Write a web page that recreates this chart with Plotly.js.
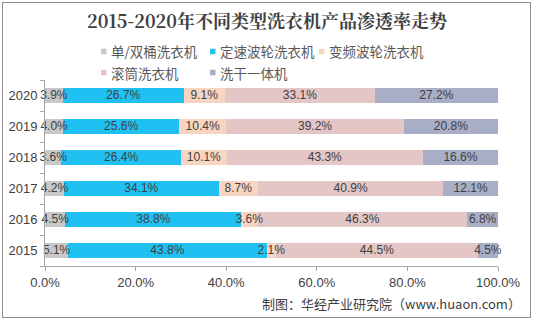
<!DOCTYPE html>
<html><head><meta charset="utf-8">
<script src="https://cdn.plot.ly/plotly-3.0.1.min.js"></script>
<style>
html,body{margin:0;padding:0;background:#fff;}
#wrap{position:relative;width:534px;height:321px;}
#chart{width:534px;height:321px;}
#frame{position:absolute;left:2px;top:2px;width:527px;height:314px;border:1px solid #8c8c8c;pointer-events:none;}
</style></head>
<body>
<div id="wrap"><div id="chart"></div><div id="frame"></div></div>
<script>
const years = ['2015','2016','2017','2018','2019','2020'];
const seriesNames = ['单/双桶洗衣机','定速波轮洗衣机','变频波轮洗衣机','滚筒洗衣机','洗干一体机'];
const singleTwin = [5.1, 4.5, 4.2, 3.6, 4.0, 3.9];
const fixedPulsator = [43.8, 38.8, 34.1, 26.4, 25.6, 26.7];
const inverterPulsator = [2.1, 3.6, 8.7, 10.1, 10.4, 9.1];
const drum = [44.5, 46.3, 40.9, 43.3, 39.2, 33.1];
const washerDryer = [4.5, 6.8, 12.1, 16.6, 20.8, 27.2];
const xTicks = [0, 20, 40, 60, 80, 100];
const colors = ['#c8c8c8', '#20c0f2', '#f8d5c0', '#e5c6c6', '#a7aec6'];

const W = 534, H = 321, M = {l: 45, r: 36, t: 80, b: 55};
const pw = W - M.l - M.r, ph = H - M.t - M.b;
const px2x = p => (p - M.l) / pw;
const py2y = p => (H - M.b - p) / ph;

const series = [singleTwin, fixedPulsator, inverterPulsator, drum, washerDryer];
const traces = [];
series.forEach((vals, i) => {
  traces.push({
    type: 'bar', orientation: 'h', y: years, x: vals, name: seriesNames[i],
    marker: {color: colors[i]}, showlegend: false, hoverinfo: 'skip', textposition: 'none'
  });
});
// data labels on top of everything
const cum = years.map(() => 0);
series.forEach((vals) => {
  const mids = vals.map((v, j) => { const m = cum[j] + v / 2; cum[j] += v; return m; });
  traces.push({
    type: 'scatter', mode: 'text', y: years, x: mids,
    text: vals.map(v => v.toFixed(1) + '%'), textposition: 'middle center',
    textfont: {family: 'Liberation Sans, Arial, sans-serif', size: 12, color: '#404040'},
    showlegend: false, hoverinfo: 'skip', cliponaxis: false
  });
});

// custom legend (3 items per row)
const shapes = [];
const annotations = [];
seriesNames.forEach((name, i) => {
  const col = i % 3, row = Math.floor(i / 3);
  const mx = 101 + col * 109, cy = 51.5 + row * 21;
  shapes.push({type: 'rect', xref: 'paper', yref: 'paper',
    x0: px2x(mx), x1: px2x(mx + 5.5), y0: py2y(cy + 2.75), y1: py2y(cy - 2.75),
    fillcolor: colors[i], line: {width: 0}});
  annotations.push({text: name, xref: 'paper', yref: 'paper', x: px2x(mx + 8), y: py2y(cy),
    xanchor: 'left', yanchor: 'middle', showarrow: false,
    font: {family: 'Noto Sans CJK SC, sans-serif', size: 13.5, color: '#595959'}});
});
annotations.push({
  text: '制图：华经产业研究院（www.huaon.com）', xref: 'paper', yref: 'paper', x: px2x(523), y: py2y(303),
  xanchor: 'right', yanchor: 'middle', showarrow: false,
  font: {family: 'Noto Sans CJK SC, sans-serif', size: 13, color: '#404040'}
});

const layout = {
  width: W, height: H,
  margin: M,
  paper_bgcolor: '#fff', plot_bgcolor: '#fff',
  barmode: 'stack', bargap: 0.5, showlegend: false,
  title: {text: '2015-2020年不同类型洗衣机产品渗透率走势', x: 0.5, xanchor: 'center', y: 1 - 22 / H, yanchor: 'middle',
    font: {family: 'Noto Serif CJK SC, Noto Sans CJK SC, sans-serif', size: 18, color: '#404040', weight: 'bold'}},
  xaxis: {range: [0, 100], tickvals: xTicks, ticktext: xTicks.map(v => v.toFixed(1) + '%'),
    showgrid: false, zeroline: false, showline: true, linecolor: '#a6a6a6', linewidth: 1,
    ticks: 'outside', ticklen: 4, tickcolor: '#a6a6a6',
    tickfont: {family: 'Liberation Sans, Arial, sans-serif', size: 13, color: '#404040'}, fixedrange: true},
  yaxis: {type: 'category', categoryorder: 'array', categoryarray: years,
    showgrid: false, zeroline: false, showline: true, linecolor: '#a6a6a6', linewidth: 1,
    ticks: 'outside', ticklen: 4, tickcolor: '#a6a6a6', tickson: 'boundaries',
    tickfont: {family: 'Liberation Sans, Arial, sans-serif', size: 13, color: '#404040'}, ticklabelstandoff: 4, fixedrange: true},
  shapes: shapes,
  annotations: annotations
};
Plotly.newPlot('chart', traces, layout, {displayModeBar: false, staticPlot: true});
</script>
</body></html>
